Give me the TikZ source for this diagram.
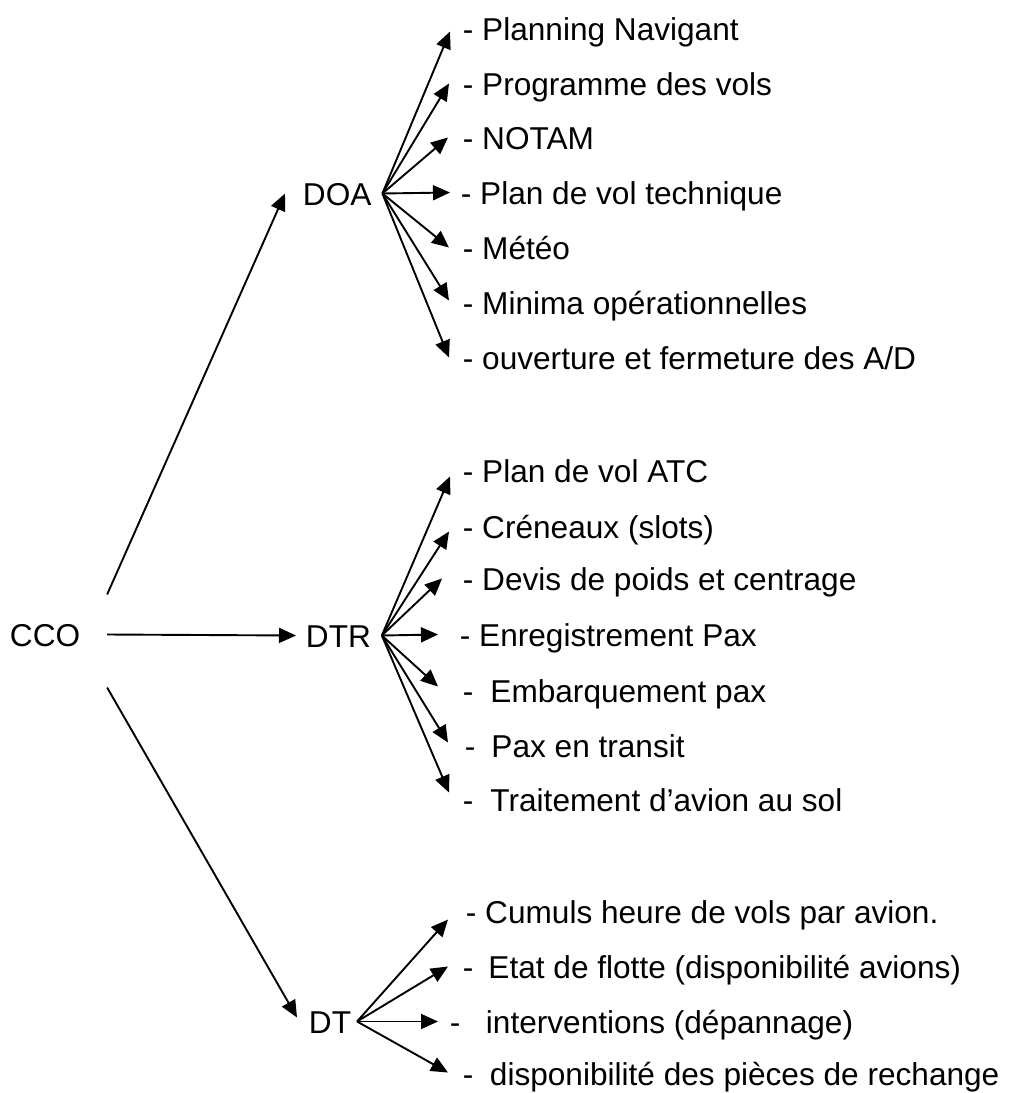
\documentclass[tikz,border=0pt]{standalone}
\usepackage{fontspec}
\setmainfont{Liberation Sans}
\usetikzlibrary{arrows.meta}

\begin{document}
\begin{tikzpicture}[x=1pt, y=-1pt, line width=1.9pt,
  fleche/.style={-{Triangle[length=17pt,width=15pt]}},
  txt/.style={inner sep=0pt, anchor=base west, text height=23pt, text depth=0pt,
    font=\fontsize{31.6}{38}\selectfont}]
\useasboundingbox (0,0) rectangle (1009,1093);
% Directions
\node[txt] (cco) at (9,646) {CCO};
\node[txt] (doa) at (302,205) {DOA};
\node[txt] (dtr) at (305,647) {DTR};
\node[txt] (dt) at (308,1033) {DT};
% Fleches depuis CCO
\draw[fleche] ([xshift=26pt,yshift=40pt]cco.east) -- ([xshift=-17pt]doa.west);
\draw[fleche] ([xshift=26pt]cco.east) -- ([xshift=-9pt]dtr.west);
\draw[fleche] ([xshift=26pt,yshift=-53pt]cco.east) -- ([xshift=-11pt,yshift=4pt]dt.west);
% Points de depart des eventails
\coordinate (doa-f) at ([xshift=10pt]doa.east);
\coordinate (dtr-f) at ([xshift=10pt]dtr.east);
\coordinate (dt-f) at ([xshift=5pt]dt.east);
% DOA
\node[txt] (doa1) at (462,40) {- Planning Navigant};
\node[txt] (doa2) at (462,95) {- Programme des vols};
\node[txt] (doa3) at (462,149) {- NOTAM};
\node[txt] (doa4) at (460,204) {- Plan de vol technique};
\node[txt] (doa5) at (462,259) {- Météo};
\node[txt] (doa6) at (462,314) {- Minima opérationnelles};
\node[txt] (doa7) at (462,369) {- ouverture et fermeture des A/D};
\draw[fleche] (doa-f) -- ([xshift=-12pt,yshift=-3pt]doa1.west);
\draw[fleche] (doa-f) -- ([xshift=-13pt]doa2.west);
\draw[fleche] (doa-f) -- ([xshift=-14pt]doa3.west);
\draw[fleche] (doa-f) -- ([xshift=-10pt]doa4.west);
\draw[fleche] (doa-f) -- ([xshift=-13pt]doa5.west);
\draw[fleche] (doa-f) -- ([xshift=-13pt,yshift=2pt]doa6.west);
\draw[fleche] (doa-f) -- ([xshift=-13pt]doa7.west);
% DTR
\node[txt] (dtr1) at (462,482) {- Plan de vol ATC};
\node[txt] (dtr2) at (462,538) {- Créneaux (slots)};
\node[txt] (dtr3) at (462,590) {- Devis de poids et centrage};
\node[txt] (dtr4) at (459,646) {- Enregistrement Pax};
\node[txt] (dtr5) at (462,702) {-\hspace{17pt}Embarquement pax};
\node[txt] (dtr6) at (464,757) {-\hspace{16pt}Pax en transit};
\node[txt] (dtr7) at (462,811) {-\hspace{17pt}Traitement d’avion au sol};
\draw[fleche] (dtr-f) -- ([xshift=-12pt,yshift=-6pt]dtr1.west);
\draw[fleche] (dtr-f) -- ([xshift=-13pt,yshift=-5pt]dtr2.west);
\draw[fleche] (dtr-f) -- ([xshift=-20pt]dtr3.west);
\draw[fleche] (dtr-f) -- ([xshift=-21pt]dtr4.west);
\draw[fleche] (dtr-f) -- ([xshift=-24pt,yshift=4pt]dtr5.west);
\draw[fleche] (dtr-f) -- ([xshift=-16pt,yshift=3pt]dtr6.west);
\draw[fleche] (dtr-f) -- ([xshift=-13pt,yshift=7pt]dtr7.west);
% DT
\node[txt] (dt1) at (465,923) {- Cumuls heure de vols par avion.};
\node[txt] (dt2) at (462,978) {-\hspace{15pt}Etat de flotte (disponibilité avions)};
\node[txt] (dt3) at (449,1033) {-\hspace{25.5pt}interventions (dépannage)};
\node[txt] (dt4) at (462,1085) {-\hspace{16.5pt}disponibilité des pièces de rechange};
\draw[fleche] (dt-f) -- ([xshift=-17pt,yshift=-8pt]dt1.west);
\draw[fleche] (dt-f) -- ([xshift=-14pt]dt2.west);
\draw[fleche] (dt-f) -- ([xshift=-11pt]dt3.west);
\draw[fleche] (dt-f) -- ([xshift=-14pt,yshift=1pt]dt4.west);
\end{tikzpicture}
\end{document}
